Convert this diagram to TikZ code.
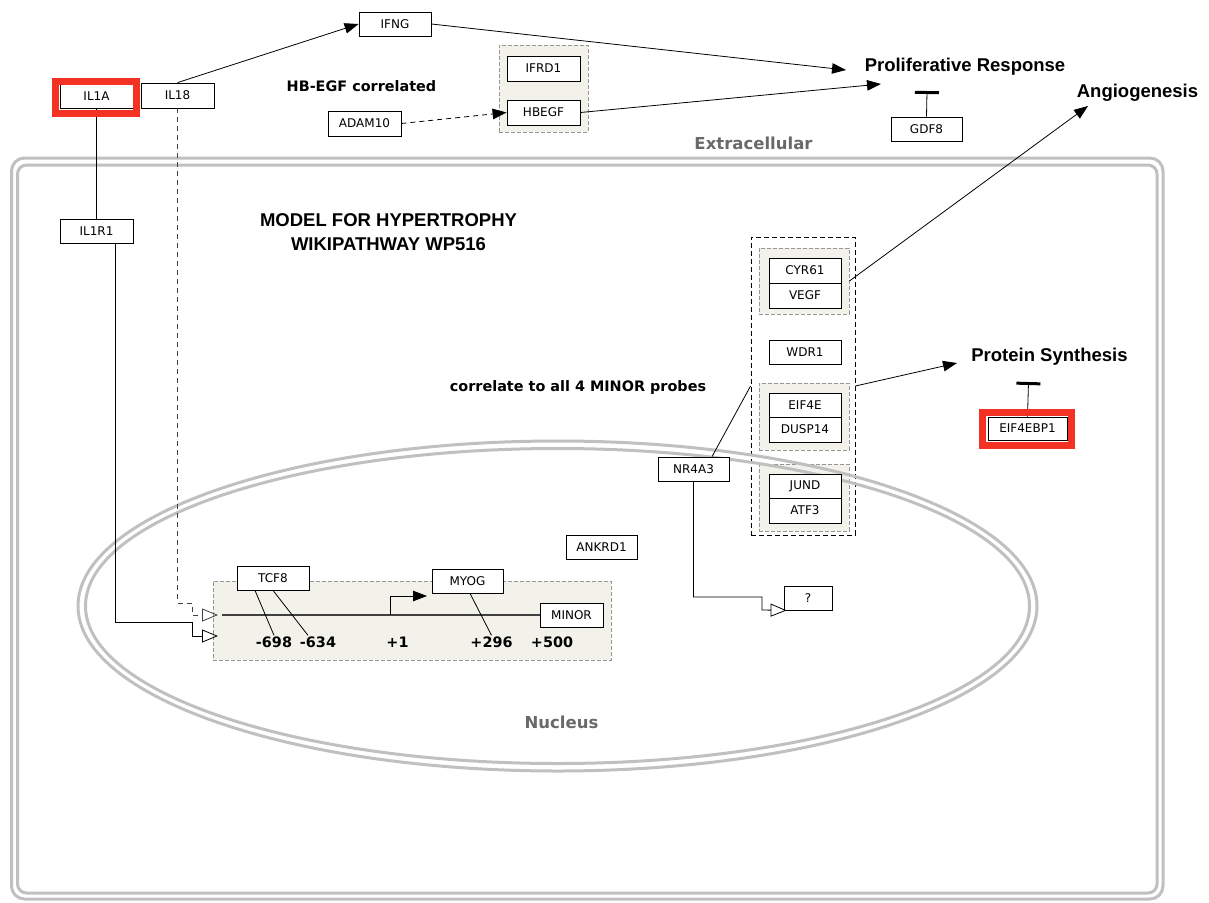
\documentclass[tikz,border=0pt]{standalone}
\usepackage{fontspec}
\setmainfont{DejaVu Sans}
\newfontfamily\lib{Liberation Sans}
\usetikzlibrary{arrows.meta}
\definecolor{compc}{RGB}{192,192,192}
\definecolor{complabel}{RGB}{105,105,105}
\definecolor{beige}{RGB}{242,242,234}
\definecolor{grpedge}{RGB}{150,150,150}
\definecolor{hired}{RGB}{244,50,36}
\begin{document}
\begin{tikzpicture}[x=1pt,y=-1pt,
 gene/.style={draw, fill=white, line width=0.8pt, minimum width=72pt, minimum height=24pt, inner sep=0pt, font=\fontsize{12}{14}\selectfont},
 grp/.style={draw=grpedge, fill=beige, dash pattern=on 4pt off 2pt, line width=0.8pt, inner sep=0pt},
 bigbox/.style={draw=black, dash pattern=on 5pt off 3pt, line width=0.9pt, inner sep=0pt},
 compline/.style={draw=compc, line width=3pt},
 complbl/.style={text=complabel, font=\fontsize{16.5}{20}\selectfont\bfseries},
 titletext/.style={font=\lib\fontsize{18.5}{24}\selectfont\bfseries, align=center},
 note/.style={font=\fontsize{14.4}{17}\selectfont\bfseries, inner sep=1pt},
 conn/.style={line width=0.8pt},
 arr/.style={conn, -{Triangle[length=14pt,width=10.5pt]}},
 oarr/.style={conn, -{Triangle[open,length=16pt,width=13pt]}},
 inhib/.style={conn, -{Bar[width=24pt,line width=3pt]}},
 redframe/.style={draw=hired, line width=7pt, inner sep=0pt}
]
\useasboundingbox (0,0) rectangle (1209,902);

% groups (fills)
\node[grp, minimum width=89pt, minimum height=87pt] (hbgrp) at (543.5,88.5) {};
\node[grp, minimum width=398pt, minimum height=79pt] (promgrp) at (412,620.5) {};
\node[bigbox, minimum width=104pt, minimum height=298pt] (biggrp) at (803,386) {};
\node[grp, minimum width=90pt, minimum height=66pt] (cyrgrp) at (804,281) {};
\node[grp, minimum width=90pt, minimum height=67pt] (eifgrp) at (804,416.5) {};
\node[grp, minimum width=90pt, minimum height=67pt] (jundgrp) at (804,497.5) {};

% compartments
\draw[compline, rounded corners=13pt] (11.5,158) rectangle (1163,899);
\draw[compline, rounded corners=9pt] (17.5,165) rectangle (1157,893);
\draw[compline] (557.5,606) ellipse [x radius=479.5pt, y radius=165pt];
\draw[compline] (557.5,606) ellipse [x radius=472pt, y radius=157.5pt];

% labels
\node[complbl] (extra) at (753.5,143) {Extracellular};
\node[complbl] (nucl) at (561.5,722) {Nucleus};
\node[titletext] (title) at (388.5,232) {MODEL FOR HYPERTROPHY\\WIKIPATHWAY WP516};
\node[titletext] (prolif) at (965,67) {Proliferative Response};
\node[titletext] (angio) at (1137.5,93) {Angiogenesis};
\node[titletext] (protsyn) at (1049.5,357) {Protein Synthesis};
\node[note] (hbnote) at (361.5,86) {HB-EGF correlated};
\node[note] (corr) at (578,388) {correlate to all 4 MINOR probes};
\node[note] (n698) at (274,642) {-698};
\node[note] (n634) at (318,642) {-634};
\node[note] (n1) at (397.5,642) {+1};
\node[note] (n296) at (491.5,642) {+296};
\node[note] (n500) at (552,642) {+500};

% genes
\node[gene, minimum width=72pt] (ifng) at (395,24) {IFNG};
\node[gene, minimum width=73pt] (il1a) at (96.5,96) {IL1A};
\node[gene, minimum width=73pt, minimum height=25pt] (il18) at (177.5,95.5) {IL18};
\node[gene, minimum width=73pt, minimum height=25pt] (adam10) at (364.5,123.5) {ADAM10};
\node[gene, minimum width=73pt, minimum height=25pt] (ifrd1) at (543.5,68.5) {IFRD1};
\node[gene, minimum width=73pt, minimum height=25pt] (hbegf) at (543.5,112.5) {HBEGF};
\node[gene, minimum width=71pt] (gdf8) at (926.5,129) {GDF8};
\node[gene, minimum width=73pt] (il1r1) at (96.5,231) {IL1R1};
\node[gene] (tcf8) at (273,578) {TCF8};
\node[gene, minimum width=71pt] (myog) at (467.5,581) {MYOG};
\node[gene, minimum width=63pt] (minor) at (571.5,615) {MINOR};
\node[gene, minimum width=71pt] (ankrd1) at (601.5,547) {ANKRD1};
\node[gene, minimum width=71pt] (nr4a3) at (693.5,469) {NR4A3};
\node[gene, minimum width=48pt] (qbox) at (808,598) {?};
\node[gene, minimum height=25pt] (cyr61) at (805,270.5) {CYR61};
\node[gene, minimum height=25pt] (vegf) at (805,295.5) {VEGF};
\node[gene] (wdr1) at (805,352.5) {WDR1};
\node[gene] (eif4e) at (805,405) {EIF4E};
\node[gene, minimum height=25pt] (dusp14) at (805,429.5) {DUSP14};
\node[gene] (jund) at (805,486) {JUND};
\node[gene, minimum height=25pt] (atf3) at (805,510.5) {ATF3};
\node[gene, minimum width=79pt, minimum height=23pt] (ebp) at (1027.5,428.5) {EIF4EBP1};

% free ends
\coordinate (pr1) at (846,70);
\coordinate (pr2) at (881,84);
\coordinate (angtip) at (1088,106);
\coordinate (pstip) at (957,363);
\coordinate (gdfbar) at (927,91);
\coordinate (ebpbar) at (1028.5,382);
\coordinate (tss) at (390,615);
\coordinate (tsstip) at (427,596);
\coordinate (linestart) at (222,615);
\coordinate (in1) at (218,615);
\coordinate (in2) at (218,636);

% connectors
\draw[arr] (il18.north) -- (ifng.west);
\draw[arr] (ifng.east) -- (pr1);
\draw[arr, dash pattern=on 5pt off 4pt] (adam10.east) -- (hbegf.west);
\draw[arr] (hbegf.east) -- (pr2);
\draw[inhib] (gdf8.north) -- (gdfbar);
\draw[arr] (cyrgrp.east) -- (angtip);
\draw[arr] (biggrp.east) -- (pstip);
\draw[inhib] (ebp.north) -- (ebpbar);
\draw[conn] (il1a.south) -- (il1r1.north);
\draw[oarr] ([xshift=18.5pt]il1r1.south) |- (192,622) -- (192,636) -- (in2);
\draw[oarr, black!75, dash pattern=on 5pt off 4pt] (il18.south) |- (192,603) -- (192,615) -- (in1);
\draw[line width=1.3pt, black!75] (linestart) -- (minor.west);
\draw[arr] (tss) |- (tsstip);
\draw[conn] ([xshift=-18pt]tcf8.south) -- (n698.north);
\draw[conn] (tcf8.south) -- ([xshift=-10pt]n634.north);
\draw[conn] ([xshift=2.5pt]myog.south) -- (n296.north);
\draw[conn] ([xshift=18.5pt]nr4a3.north) -- (biggrp.west);
\draw[oarr] (nr4a3.south) |- (762,597) -- (762,610) -- ([xshift=3pt]qbox.south west);

% highlight frames
\node[redframe, minimum width=81pt, minimum height=32pt] (il1aframe) at (96,97.5) {};
\node[redframe, minimum width=89pt, minimum height=33pt] (ebpframe) at (1027,429) {};
\end{tikzpicture}
\end{document}
